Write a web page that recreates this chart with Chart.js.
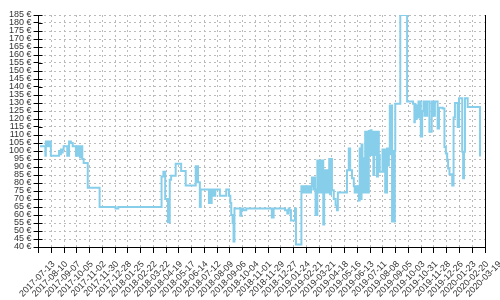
<!DOCTYPE html>
<html>
<head>
<meta charset="utf-8">
<script src="https://cdn.jsdelivr.net/npm/chart.js@4"></script>
<style>
    body { margin: 0; background: #fff; }
    #wrap { width: 500px; height: 300px; }
</style>
</head>
<body>
<div id="wrap"><canvas id="chart"></canvas></div>
<script>
// x axis: days counted from 2017-07-13, one tick every 28 days
const tickLabels = ['2017-07-13', '2017-08-10', '2017-09-07', '2017-10-05', '2017-11-02', '2017-11-30',
    '2017-12-28', '2018-01-25', '2018-02-22', '2018-03-22', '2018-04-19', '2018-05-17', '2018-06-14',
    '2018-07-12', '2018-08-09', '2018-09-06', '2018-10-04', '2018-11-01', '2018-11-29', '2018-12-27',
    '2019-01-24', '2019-02-21', '2019-03-21', '2019-04-18', '2019-05-16', '2019-06-13', '2019-07-11',
    '2019-08-08', '2019-09-05', '2019-10-03', '2019-10-31', '2019-11-28', '2019-12-26', '2020-01-23',
    '2020-02-20', '2020-03-19'];

// price changes: day number and new price (€)
const changeDays = [3, 15, 16, 19, 21, 23, 25, 27, 45, 47, 49, 51, 53, 55, 63, 67, 71, 75, 82, 84, 86, 88, 91, 93,
    96, 99, 108, 134, 169, 175, 270, 274, 278, 284, 288, 291, 301, 313, 323, 345, 346, 347, 348, 349, 350,
    354, 356, 374, 376, 378, 380, 382, 384, 386, 388, 398, 412, 418, 421, 423, 426, 428, 430, 443, 445,
    447, 450, 456, 512, 516, 541, 546, 549, 551, 554, 563, 565, 577, 580, 582, 584, 586, 588, 590, 592,
    594, 596, 598, 600, 603, 605, 607, 608, 612, 614, 616, 618, 620, 622, 624, 625, 627, 629, 631, 633,
    635, 637, 638, 640, 642, 644, 648, 652, 655, 657, 677, 681, 684, 688, 692, 694, 696, 698, 700, 703,
    705, 707, 709, 711, 713, 715, 717, 719, 721, 723, 725, 727, 729, 731, 733, 735, 737, 739, 741, 743,
    745, 747, 749, 755, 757, 759, 761, 765, 767, 769, 771, 773, 775, 776, 778, 780, 782, 783, 794, 809,
    822, 825, 826, 828, 830, 832, 834, 836, 838, 839, 842, 845, 847, 849, 851, 853, 858, 863, 865, 867,
    869, 870, 876, 879, 887, 891, 894, 897, 899, 902, 908, 911, 914, 920, 923, 930, 932, 934, 936, 942, 969];
const prices = [103, 97, 106, 103, 106, 103, 106, 97, 100, 98, 101, 99, 101, 103, 97, 106, 105, 103, 97, 103, 97, 103, 96, 103,
    95, 92.5, 77, 65, 64, 65, 84, 87, 70, 55.5, 82, 84.5, 92, 87.5, 78.5, 90.5, 80.5, 90.5, 80.5, 90.5, 80.5,
    65, 76, 67.5, 76, 67.5, 76, 72, 76, 72, 76, 72, 76, 72, 67.5, 60, 55, 43.5, 64, 59.5, 63,
    64, 63, 64, 58.5, 64, 63, 61, 64, 63, 56.5, 64, 41.5, 78, 74, 78, 74, 78, 74, 78, 74,
    78, 74, 78, 83.5, 76, 83.5, 76, 60, 94, 74, 94, 74, 94, 74, 94, 54, 74, 88, 74, 88,
    74, 88, 95, 73, 95, 75.5, 70, 66, 63, 74, 88, 101.5, 88, 83, 78, 74, 78, 74, 78, 69,
    101.5, 70, 104, 95.5, 74, 95.5, 112, 74, 112, 74, 112.5, 97.5, 113, 97.5, 112, 85, 112, 97.5, 112, 84,
    112, 97.5, 87, 101, 87, 101, 74, 101.5, 91, 101.5, 128.5, 98, 128.5, 56, 100, 56, 100, 129.5, 185, 131,
    129.5, 118, 129, 120, 128.5, 121, 131, 121, 131, 109, 125, 131, 122, 131, 122, 131, 112, 131, 122, 131,
    122, 131, 114, 127, 126.5, 102.5, 98.5, 94.5, 89, 85.5, 78.5, 121, 130, 115, 133, 99.5, 83, 99.5, 133, 127.5, 96.5];

const points = changeDays.map((d, i) => ({x: d, y: prices[i]}));

// right frame line and the short inner part of the y tick marks
const framePlugin = {
    id: 'frame',
    afterDraw(chart) {
        const ctx = chart.ctx;
        const area = chart.chartArea;
        const y = chart.scales.y;
        ctx.save();
        ctx.strokeStyle = '#000';
        ctx.lineWidth = 1;
        ctx.beginPath();
        const rx = Math.round(area.right) + 0.5;
        ctx.moveTo(rx, area.top);
        ctx.lineTo(rx, area.bottom);
        y.ticks.forEach((t, i) => {
            const py = Math.round(y.getPixelForTick(i)) + 0.5;
            ctx.moveTo(area.left, py);
            ctx.lineTo(area.left + 4, py);
        });
        ctx.stroke();
        ctx.restore();
    }
};

const gridColor = '#bbbbbb';
const labelFont = {family: 'Liberation Sans', size: 9};

new Chart(document.getElementById('chart'), {
    type: 'line',
    data: {
        datasets: [{
            data: points,
            borderColor: 'rgb(135, 206, 235)',
            borderWidth: 2,
            pointRadius: 0,
            stepped: true,
            fill: false
        }]
    },
    options: {
        responsive: true,
        maintainAspectRatio: false,
        animation: false,
        layout: {padding: {top: 15, right: 15, left: 0, bottom: 0}},
        plugins: {legend: {display: false}, tooltip: {enabled: false}},
        scales: {
            x: {
                type: 'linear',
                min: 0,
                max: 980,
                afterFit: (scale) => { scale.height = 53; },
                border: {display: true, color: '#000', width: 1, dash: [2, 3]},
                grid: {color: gridColor, tickColor: '#000', tickLength: 6},
                ticks: {
                    stepSize: 28,
                    autoSkip: false,
                    minRotation: 45,
                    maxRotation: 45,
                    labelOffset: 15,
                    padding: 6,
                    color: '#333',
                    font: labelFont,
                    callback: (v, i) => tickLabels[i]
                }
            },
            y: {
                min: 40,
                max: 185,
                afterFit: (scale) => { scale.width = 36.5; },
                border: {display: true, color: '#000', width: 1, dash: [2, 3]},
                grid: {color: gridColor, tickColor: '#000', tickLength: 5},
                ticks: {
                    stepSize: 5,
                    autoSkip: false,
                    padding: 2,
                    color: '#333',
                    font: labelFont,
                    callback: (v) => v + ' €'
                }
            }
        }
    },
    plugins: [framePlugin]
});
</script>
</body>
</html>
